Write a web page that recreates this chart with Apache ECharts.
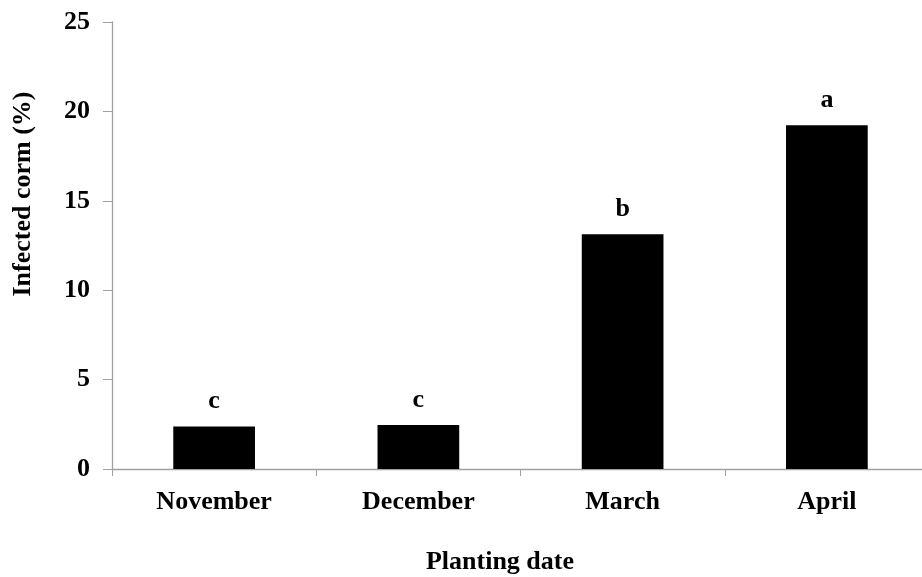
<!DOCTYPE html>
<html>
<head>
<meta charset="utf-8">
<script src="https://cdn.jsdelivr.net/npm/echarts@6/dist/echarts.min.js"></script>
<style>html,body{margin:0;padding:0;background:#fff;overflow:hidden;}#c{width:930px;height:577px;}</style>
</head>
<body>
<div id="c"></div>
<script>
const categories = ['November', 'December', 'March', 'April'];
const infected = [2.38, 2.46, 13.13, 19.23];
const letters = ['c', 'c', 'b', 'a'];
const yTicks = [0, 5, 10, 15, 20, 25];

const FONT = '"Liberation Serif", "Times New Roman", serif';
const chart = echarts.init(document.getElementById('c'));
chart.setOption({
  animation: false,
  backgroundColor: '#fff',
  grid: { left: 112, top: 22, bottom: 108, right: 1, containLabel: false },
  xAxis: {
    type: 'category',
    data: categories,
    axisLine: { lineStyle: { color: '#a0a0a0', width: 1.3 } },
    axisTick: { show: true, alignWithLabel: false, length: 7, lineStyle: { color: '#a0a0a0' } },
    axisLabel: { margin: 20, color: '#000', fontFamily: FONT, fontWeight: 'bold', fontSize: 26 }
  },
  yAxis: {
    type: 'value',
    min: yTicks[0],
    max: yTicks[yTicks.length - 1],
    interval: yTicks[1] - yTicks[0],
    axisLine: { show: true, lineStyle: { color: '#a0a0a0', width: 1.3 } },
    axisTick: { show: true, length: 9, lineStyle: { color: '#a0a0a0' } },
    splitLine: { show: false },
    axisLabel: { margin: 22, color: '#000', fontFamily: FONT, fontWeight: 'bold', fontSize: 26 }
  },
  series: [{
    type: 'bar',
    data: infected.map((v, i) => ({ value: v, label: { formatter: letters[i] } })),
    barWidth: '40%',
    itemStyle: { color: '#000' },
    label: { show: true, position: 'top', distance: 12, color: '#000', fontFamily: FONT, fontWeight: 'bold', fontSize: 26 }
  }],
  graphic: [
    { type: 'text', x: 500, y: 562, style: { text: 'Planting date', textAlign: 'center', textVerticalAlign: 'middle', fill: '#000', font: 'bold 26px ' + FONT } },
    { type: 'text', x: 23, y: 194, rotation: Math.PI / 2, style: { text: 'Infected corm (%)', textAlign: 'center', textVerticalAlign: 'middle', fill: '#000', font: 'bold 26px ' + FONT } }
  ]
});
</script>
</body>
</html>
